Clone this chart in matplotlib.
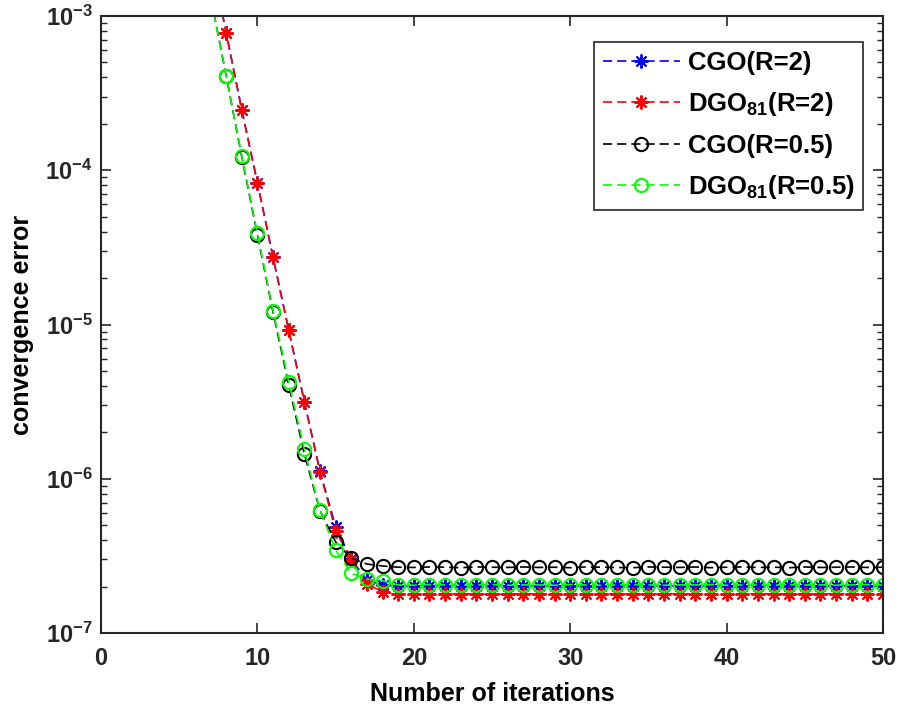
import numpy as np
import matplotlib
matplotlib.use('Agg')
import matplotlib.pyplot as plt

plt.rcParams['font.family'] = ['Liberation Sans', 'DejaVu Sans']
plt.rcParams['font.weight'] = 'bold'
plt.rcParams['mathtext.fontset'] = 'custom'
plt.rcParams['mathtext.rm'] = 'Liberation Sans:bold'
plt.rcParams['mathtext.it'] = 'Liberation Sans:bold'
plt.rcParams['mathtext.bf'] = 'Liberation Sans:bold'
plt.rcParams['axes.unicode_minus'] = False

# iterations shown (curves come down from above the top of the axes)
iters = np.arange(6, 51)

# flat tails for iterations 19..50
tail_blue = [2.02e-7, 2.01e-7, 2.03e-7, 2.02e-7, 2.01e-7, 2.02e-7, 2.03e-7, 2.02e-7,
             2.01e-7, 2.02e-7, 2.02e-7, 2.03e-7, 2.01e-7, 2.02e-7, 2.02e-7, 2.01e-7,
             2.03e-7, 2.02e-7, 2.02e-7, 2.01e-7, 2.02e-7, 2.03e-7, 2.02e-7, 2.01e-7,
             2.02e-7, 2.02e-7, 2.03e-7, 2.01e-7, 2.02e-7, 2.02e-7, 2.01e-7, 2.02e-7]
tail_red = [1.80e-7, 1.79e-7, 1.78e-7, 1.79e-7, 1.80e-7, 1.79e-7, 1.78e-7, 1.79e-7,
            1.80e-7, 1.79e-7, 1.79e-7, 1.78e-7, 1.79e-7, 1.80e-7, 1.79e-7, 1.79e-7,
            1.78e-7, 1.79e-7, 1.80e-7, 1.79e-7, 1.79e-7, 1.78e-7, 1.79e-7, 1.80e-7,
            1.79e-7, 1.79e-7, 1.78e-7, 1.79e-7, 1.80e-7, 1.79e-7, 1.79e-7, 1.78e-7]
tail_black = [2.67e-7, 2.66e-7, 2.68e-7, 2.67e-7, 2.65e-7, 2.68e-7, 2.67e-7, 2.66e-7,
              2.68e-7, 2.66e-7, 2.67e-7, 2.65e-7, 2.68e-7, 2.67e-7, 2.66e-7, 2.65e-7,
              2.68e-7, 2.67e-7, 2.66e-7, 2.68e-7, 2.65e-7, 2.67e-7, 2.68e-7, 2.66e-7,
              2.67e-7, 2.65e-7, 2.68e-7, 2.66e-7, 2.67e-7, 2.68e-7, 2.66e-7, 2.67e-7]
tail_green = [2.05e-7, 2.04e-7, 2.06e-7, 2.05e-7, 2.04e-7, 2.05e-7, 2.06e-7, 2.04e-7,
              2.05e-7, 2.05e-7, 2.04e-7, 2.06e-7, 2.05e-7, 2.04e-7, 2.05e-7, 2.06e-7,
              2.05e-7, 2.04e-7, 2.05e-7, 2.05e-7, 2.06e-7, 2.04e-7, 2.05e-7, 2.05e-7,
              2.04e-7, 2.06e-7, 2.05e-7, 2.05e-7, 2.04e-7, 2.05e-7, 2.06e-7, 2.05e-7]

# iterations 6..18
cgo_r2 = [8.0e-3, 2.5e-3, 7.8e-4, 2.46e-4, 8.3e-5, 2.73e-5, 9.2e-6, 3.16e-6,
          1.12e-6, 4.9e-7, 3.0e-7, 2.2e-7, 2.05e-7] + tail_blue
dgo_r2 = [8.0e-3, 2.5e-3, 7.8e-4, 2.46e-4, 8.3e-5, 2.73e-5, 9.2e-6, 3.16e-6,
          1.11e-6, 4.6e-7, 2.97e-7, 2.08e-7, 1.85e-7] + tail_red
cgo_r05 = [4.5e-3, 1.35e-3, 4.1e-4, 1.22e-4, 3.8e-5, 1.2e-5, 4.06e-6, 1.45e-6,
           6.2e-7, 3.9e-7, 3.05e-7, 2.8e-7, 2.72e-7] + tail_black
dgo_r05 = [4.5e-3, 1.35e-3, 4.08e-4, 1.24e-4, 3.9e-5, 1.23e-5, 4.26e-6, 1.55e-6,
           6.27e-7, 3.45e-7, 2.44e-7, 2.23e-7, 2.18e-7] + tail_green

labels = ['CGO(R=2)', r'DGO$_{81}$(R=2)', 'CGO(R=0.5)', r'DGO$_{81}$(R=0.5)']

fig = plt.figure(figsize=(8.98, 7.11), dpi=100)
ax = fig.add_axes([0.1125, 0.1097, 0.8708, 0.8678])

star = (8, 2, 0)  # matlab-like asterisk
dash = (5.5, 3)
common = dict(lw=1.2, dashes=dash)
ax.plot(iters, cgo_r2, color='b', marker=star, ms=10, mew=1.4, label=labels[0], **common)
ax.plot(iters, dgo_r2, color='r', marker=star, ms=10, mew=1.4, label=labels[1], **common)
ax.plot(iters, cgo_r05, color='k', marker='o', ms=9.5, mfc='none', mew=1.5, label=labels[2], **common)
ax.plot(iters, dgo_r05, color=(0, 1, 0), marker='o', ms=9.5, mfc='none', mew=1.5, label=labels[3], **common)

ax.set_yscale('log')
ax.set_xlim(0, 50)
ax.set_ylim(1e-7, 1e-3)
ax.set_xticks([0, 10, 20, 30, 40, 50])
ax.tick_params(which='both', direction='in', top=True, right=True, labelsize=17, colors='0.15')
ax.tick_params(axis='x', pad=10)
ax.tick_params(axis='y', pad=6)
ax.tick_params(which='major', length=7, width=1.2)
ax.tick_params(which='minor', length=4, width=1.0)
for s in ax.spines.values():
    s.set_linewidth(1.5)
    s.set_color('0.15')

ax.set_xlabel('Number of iterations', fontsize=18, fontweight='bold', labelpad=9)
ax.set_ylabel('convergence error', fontsize=18, fontweight='bold', labelpad=8)

leg = ax.legend(loc='upper right', bbox_to_anchor=(0.975, 0.958), fontsize=18.5,
                fancybox=False, framealpha=1, edgecolor='0.15', handlelength=3.0,
                borderpad=0.35, labelspacing=0.6, handletextpad=0.3, borderaxespad=0)
leg.get_frame().set_linewidth(1.2)

fig.savefig('out.png', dpi=100)
